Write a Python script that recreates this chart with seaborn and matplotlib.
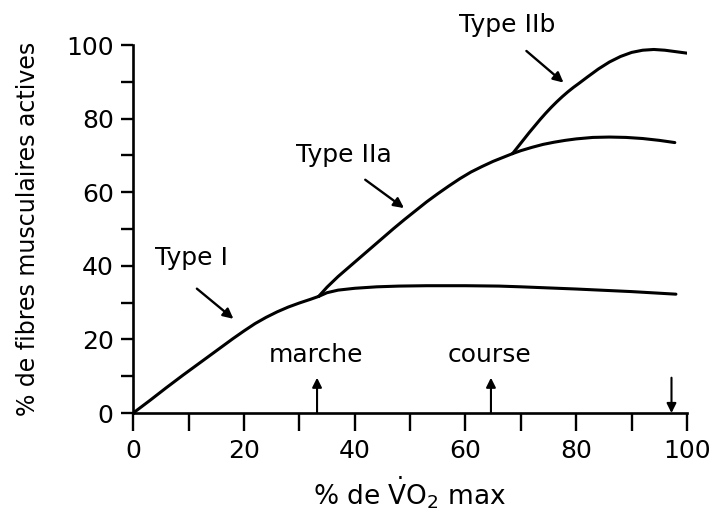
import matplotlib
matplotlib.use('Agg')
import matplotlib.pyplot as plt
import seaborn as sns
from matplotlib.ticker import MultipleLocator

# curve (% VO2 max -> % active fibres)
x_start = [0, 3, 6, 9, 12, 15, 18, 20, 22, 24, 26, 28, 30, 32, 33.5]
y_start = [0, 3.4, 6.9, 10.3, 13.6, 16.9, 20.2, 22.3, 24.3, 26.0, 27.5, 28.8, 29.9, 30.9, 31.7]

x_type1 = [33.5, 35, 37, 40, 44, 48, 53, 60, 66, 70, 80, 90, 98]
y_type1 = [31.7, 32.7, 33.4, 33.9, 34.3, 34.5, 34.6, 34.6, 34.5, 34.3, 33.7, 33.0, 32.3]

x_mid = [33.5, 35, 37, 39, 41, 43, 45, 47, 49, 51, 53, 55, 57, 59, 61, 63, 65, 67, 68.5]
y_mid = [31.7, 34.2, 37.1, 39.7, 42.3, 44.9, 47.5, 50.1, 52.6, 55.0, 57.4, 59.6, 61.7,
         63.7, 65.5, 67.0, 68.4, 69.6, 70.5]

x_type2a = [68.5, 70, 72, 74, 76, 78, 80, 83, 86, 89, 92, 95, 97.8]
y_type2a = [70.5, 71.3, 72.2, 73.0, 73.6, 74.1, 74.5, 74.9, 75.0, 74.9, 74.6, 74.1, 73.5]

x_type2b = [68.5, 69.5, 70.5, 71.5, 72.5, 73.5, 74.5, 75.5, 76.5, 77.5, 78.5, 79.5,
            80.5, 82, 84, 86, 88, 90, 92, 94, 96, 98, 100]
y_type2b = [70.5, 72.4, 74.3, 76.2, 78.0, 79.8, 81.5, 83.1, 84.6, 86.0, 87.3, 88.5,
            89.6, 91.3, 93.5, 95.4, 96.9, 98.0, 98.6, 98.8, 98.6, 98.2, 97.8]

fibre_labels = ['Type I', 'Type IIa', 'Type IIb']
label_xy = [(10.5, 42), (38, 70), (67.5, 105.5)]
arrow_from = [(11.5, 33.8), (41.9, 63.4), (71, 98.4)]
arrow_to = [(18.1, 25.6), (48.9, 55.7), (77.7, 89.8)]

activities = ['marche', 'course']
activity_x = [33.2, 64.6]
activity_label_x = [33, 64.4]
vo2max_x = 97.2

sns.set_style('ticks')
plt.rcParams['font.family'] = ['DejaVu Sans']
plt.rcParams['mathtext.fontset'] = 'dejavusans'
for k in ['text.color', 'axes.labelcolor', 'xtick.color', 'ytick.color', 'axes.edgecolor']:
    plt.rcParams[k] = 'black'

fig = plt.figure(figsize=(7.16, 5.15), dpi=100)
ax = fig.add_axes([0.186, 0.198, 0.7735, 0.7145])

for xs, ys in [(x_start, y_start), (x_type1, y_type1), (x_mid, y_mid),
               (x_type2a, y_type2a), (x_type2b, y_type2b)]:
    sns.lineplot(x=xs, y=ys, ax=ax, color='black', linewidth=2.2)

for lab, xy, a0, a1 in zip(fibre_labels, label_xy, arrow_from, arrow_to):
    ax.text(xy[0], xy[1], lab, fontsize=18, ha='center', va='center')
    ax.annotate('', xy=a1, xytext=a0, annotation_clip=False,
                arrowprops=dict(arrowstyle='-|>', color='black', lw=1.7,
                                mutation_scale=15, shrinkA=0, shrinkB=0))

for lab, xa, xl in zip(activities, activity_x, activity_label_x):
    ax.text(xl, 15.8, lab, fontsize=18, ha='center', va='center')
    ax.annotate('', xy=(xa, 9.6), xytext=(xa, 0),
                arrowprops=dict(arrowstyle='-|>', color='black', lw=1.5,
                                mutation_scale=14, shrinkA=0, shrinkB=0))

ax.annotate('', xy=(vo2max_x, 0), xytext=(vo2max_x, 9.6),
            arrowprops=dict(arrowstyle='-|>', color='black', lw=1.5,
                            mutation_scale=14, shrinkA=0, shrinkB=0))

ax.set_xlim(0, 100)
ax.set_ylim(0, 100)
ax.xaxis.set_major_locator(MultipleLocator(20))
ax.xaxis.set_minor_locator(MultipleLocator(10))
ax.yaxis.set_major_locator(MultipleLocator(20))
ax.yaxis.set_minor_locator(MultipleLocator(10))
ax.tick_params(axis='x', which='both', direction='out', length=13, width=1.7,
               labelsize=18, pad=6)
ax.tick_params(axis='y', which='both', direction='out', length=9, width=1.7,
               labelsize=18, pad=5)
for s in ['left', 'bottom']:
    ax.spines[s].set_linewidth(1.9)
sns.despine(ax=ax)

ax.set_xlabel(r'% de $\dot{\mathrm{V}}\mathrm{O}_2$ max', fontsize=19, labelpad=8)
ax.set_ylabel('% de fibres musculaires actives', fontsize=17, labelpad=19)

fig.savefig('out.png', dpi=100)
